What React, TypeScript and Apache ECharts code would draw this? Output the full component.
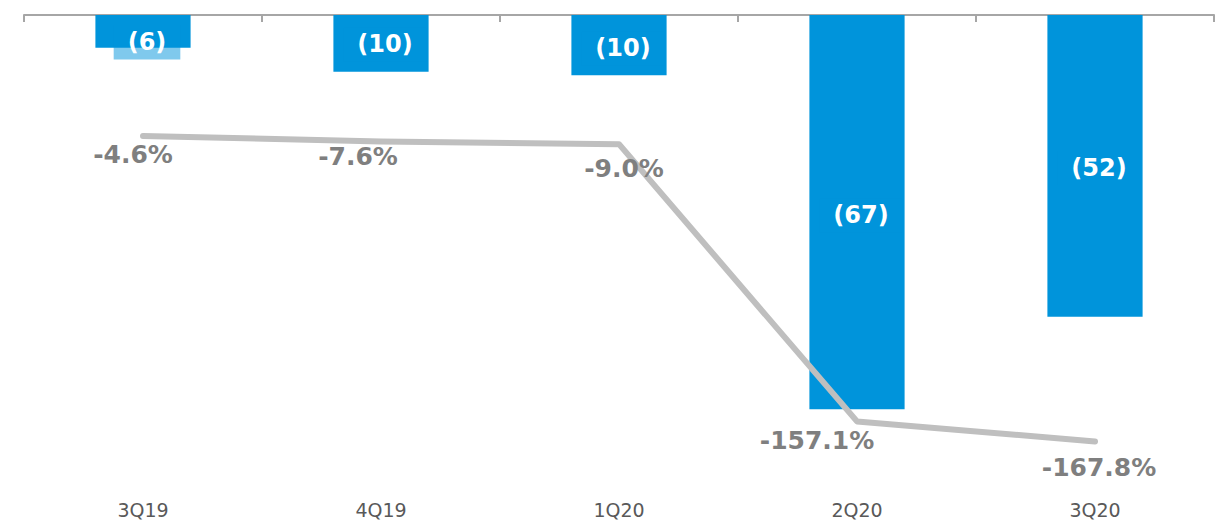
import React, { useEffect, useRef } from "react";
import * as echarts from "echarts";

const categories = ["3Q19", "4Q19", "1Q20", "2Q20", "3Q20"];
const barValues = [-5.6, -9.7, -10.3, -67.4, -51.6];
const lineValues = [-4.6, -7.6, -9.0, -157.1, -167.8];
const lineLabelOffsets = [[-10, 1], [-23, -3], [5, 7], [-40, 2], [4, 9]];
const barLabelOffsets = [[4, 11], [4, 1], [4, 3], [4, 3], [4, 2]];

const BLUE = "#0094DB";

export default function App() {
  const ref = useRef<HTMLDivElement>(null);
  useEffect(() => {
    const chart = echarts.init(ref.current!, null, { renderer: "svg" });
    chart.setOption({
      animation: false,
      grid: { left: 24, right: 5, top: 15, height: 468 },
      xAxis: [
        {
          type: "category",
          data: categories,
          position: "top",
          axisLine: { show: true, onZero: false, lineStyle: { color: "#A6A6A6", width: 2 } },
          axisTick: { show: true, inside: true, length: 7, lineStyle: { color: "#A6A6A6", width: 2 } },
          axisLabel: { show: false },
          splitLine: { show: false },
        },
        {
          type: "category",
          data: categories,
          position: "bottom",
          axisLine: { show: false },
          axisTick: { show: false },
          axisLabel: {
            show: true,
            margin: 17,
            color: "#595959",
            fontFamily: "DejaVu Sans",
            fontSize: 19,
            lineHeight: 20,
          },
          splitLine: { show: false },
        },
      ],
      yAxis: [
        { type: "value", min: -80, max: 0, show: false, splitLine: { show: false } },
        { type: "value", min: -190, max: 60, show: false, splitLine: { show: false } },
      ],
      series: [
        {
          type: "bar",
          xAxisIndex: 0,
          yAxisIndex: 0,
          barWidth: "40%",
          itemStyle: { color: BLUE },
          data: barValues.map((v, i) => ({
            value: v,
            label: { offset: barLabelOffsets[i] },
          })),
          label: {
            show: true,
            position: "inside",
            color: "#FFFFFF",
            fontFamily: "DejaVu Sans",
            fontWeight: "bold",
            fontSize: 24,
            backgroundColor: "rgba(0,148,219,0.5)",
            padding: [5, 14],
            formatter: (p: any) => "(" + Math.round(Math.abs(p.value)) + ")",
          },
          z: 2,
        },
        {
          type: "line",
          xAxisIndex: 0,
          yAxisIndex: 1,
          symbol: "circle",
          symbolSize: 0,
          lineStyle: { color: "#BFBFBF", width: 6, cap: "round", join: "round" },
          itemStyle: { color: "#BFBFBF" },
          data: lineValues.map((v, i) => ({
            value: v,
            label: { offset: lineLabelOffsets[i] },
          })),
          label: {
            show: true,
            position: "bottom",
            distance: 5,
            color: "#7F7F7F",
            fontFamily: "DejaVu Sans",
            fontWeight: "bold",
            fontSize: 25,
            formatter: (p: any) => p.value.toFixed(1) + "%",
          },
          z: 3,
        },
      ],
    });
    return () => chart.dispose();
  }, []);
  return <div ref={ref} style={{ width: 1219, height: 525, position: "absolute", left: 0, top: 0 }} />;
}
